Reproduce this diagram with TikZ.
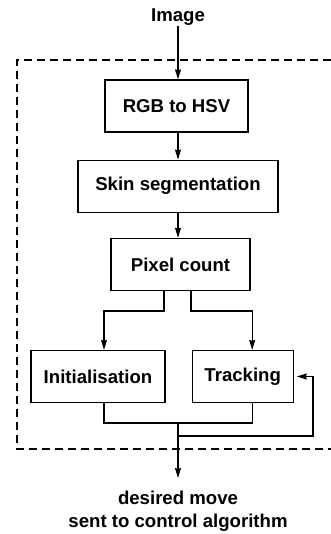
\documentclass[tikz,border=0pt]{standalone}
\usepackage{fontspec}
\setmainfont{Liberation Sans}
\usetikzlibrary{positioning,arrows.meta}

\begin{document}
\begin{tikzpicture}[
    x=1pt,y=1pt,
    font=\fontsize{18.6}{23}\selectfont\bfseries,
    line width=1.2pt,
    box/.style={draw,inner sep=0pt,minimum height=52pt,align=center},
    lbl/.style={inner sep=0pt,align=center},
    arrow/.style={-{Stealth[length=10pt,width=6pt,inset=1pt]}},
    frame/.style={dash pattern=on 8pt off 5pt}
  ]
    \useasboundingbox (0,0) rectangle (331,-534);
    \node[lbl] (img) at (178,-17) {Image};
    \node[box,minimum width=143pt] (rgb) at (176.5,-106) {RGB to HSV};
    \node[box,minimum width=200pt,below=27pt of rgb,xshift=1.5pt] (skin) {Skin segmentation};
    \node[box,minimum width=139pt,below=25pt of skin,xshift=2.5pt] (pix) {Pixel count};
    \node[box,minimum width=134pt] (init) at (98,-376.5) {Initialisation};
    \node[box,minimum width=101pt,right=26pt of init] (track) {Tracking};
    \node[lbl,anchor=north] (out) at (178,-490) {desired move\\sent to control algorithm};
    \coordinate (merge) at (178,-423);
    \coordinate (fb) at (178,-436);
    \coordinate (outtop) at (178,-478);
    % dashed frame
    \draw[frame] (331,-60) -- (17,-60) -- (17,-449) -- (331,-449);
    \draw[arrow] (img.south) -- (img.south |- rgb.north);
    \draw[arrow] (rgb.south -| img.south) -- (img.south |- skin.north);
    \draw[arrow] (skin.south -| img.south) -- (img.south |- pix.north);
    \draw[arrow] ([xshift=-16.5pt]pix.south) |- ++(0,-20) -| ([xshift=6pt]init.north);
    \draw[arrow] ([xshift=10.5pt]pix.south) |- ++(0,-20) -| ([xshift=9.5pt]track.north);
    \draw ([xshift=6pt]init.south) |- (merge) -| ([xshift=9.5pt]track.south);
    \draw[arrow] (merge) -- (outtop);
    \draw[arrow,shorten >=3pt] (fb) -- ++(135,0) |- (track.east);
  \end{tikzpicture}
\end{document}
